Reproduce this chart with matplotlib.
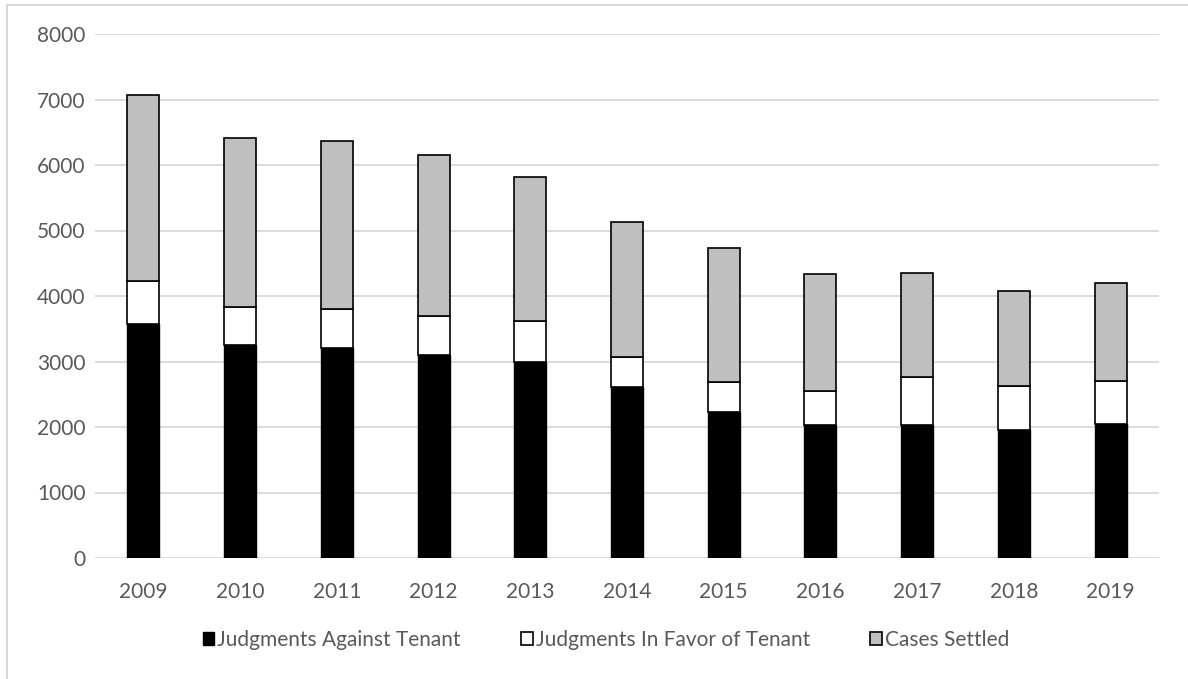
import matplotlib
matplotlib.use("Agg")
import matplotlib.pyplot as plt
from matplotlib.patches import Patch
from matplotlib.lines import Line2D
import numpy as np

years = ["2009", "2010", "2011", "2012", "2013", "2014", "2015", "2016", "2017", "2018", "2019"]
against_tenant = [3566, 3255, 3206, 3097, 2993, 2616, 2228, 2032, 2037, 1950, 2048]
favor_tenant = [661, 573, 601, 595, 623, 453, 465, 513, 721, 682, 655]
cases_settled = [2835, 2578, 2556, 2463, 2206, 2054, 2047, 1791, 1589, 1442, 1502]
y_ticks = [0, 1000, 2000, 3000, 4000, 5000, 6000, 7000, 8000]

plt.rcParams["font.family"] = ["Lato", "DejaVu Sans"]
text_color = "#595959"
grid_color = "#d9d9d9"

W, H = 1188, 679
fig = plt.figure(figsize=(W / 100, H / 100), dpi=100)
ax = fig.add_axes([95 / W, 121 / H, 1064 / W, 524 / H])

x = np.arange(len(years))
width = 0.33
against = np.array(against_tenant)
favor = np.array(favor_tenant)
settled = np.array(cases_settled)

ax.bar(x, against, width, color="black", edgecolor="black", linewidth=1, zorder=3)
ax.bar(x, favor, width, bottom=against, color="white", edgecolor="black", linewidth=1.2, zorder=3)
ax.bar(x, settled, width, bottom=against + favor, color="#bfbfbf", edgecolor="black", linewidth=1.2, zorder=3)

ax.set_xlim(-0.5, len(years) - 0.5)
ax.set_ylim(0, 8000)
ax.set_yticks(y_ticks)
ax.set_yticklabels([str(v) for v in y_ticks])
ax.set_xticks(x)
ax.set_xticklabels(years)
ax.tick_params(axis="both", length=0, labelsize=15, colors=text_color)
ax.tick_params(axis="y", pad=7)
ax.tick_params(axis="x", pad=17)
ax.yaxis.grid(True, color=grid_color, linewidth=1.3, zorder=0)
ax.set_axisbelow(True)
for s in ax.spines.values():
    s.set_visible(False)

handles = [
    Patch(facecolor="black", edgecolor="black", linewidth=1),
    Patch(facecolor="white", edgecolor="black", linewidth=1.2),
    Patch(facecolor="#bfbfbf", edgecolor="black", linewidth=1.2),
]
labels = ["Judgments Against Tenant", "Judgments In Favor of Tenant", "Cases Settled"]
fig.legend(handles, labels, loc="center", bbox_to_anchor=(606 / W, 1 - 640 / H), ncol=3,
           frameon=False, fontsize=15, labelcolor=text_color, handlelength=0.55,
           handleheight=0.55, handletextpad=0.15, columnspacing=2.9)

# chart area border
fig.add_artist(Line2D([6.5 / W, 6.5 / W], [0, 1 - 5 / H], color=grid_color, linewidth=1.5))
fig.add_artist(Line2D([6.5 / W, 1], [1 - 5 / H, 1 - 5 / H], color=grid_color, linewidth=1.5))

fig.savefig("out.png", dpi=100, facecolor="white")
